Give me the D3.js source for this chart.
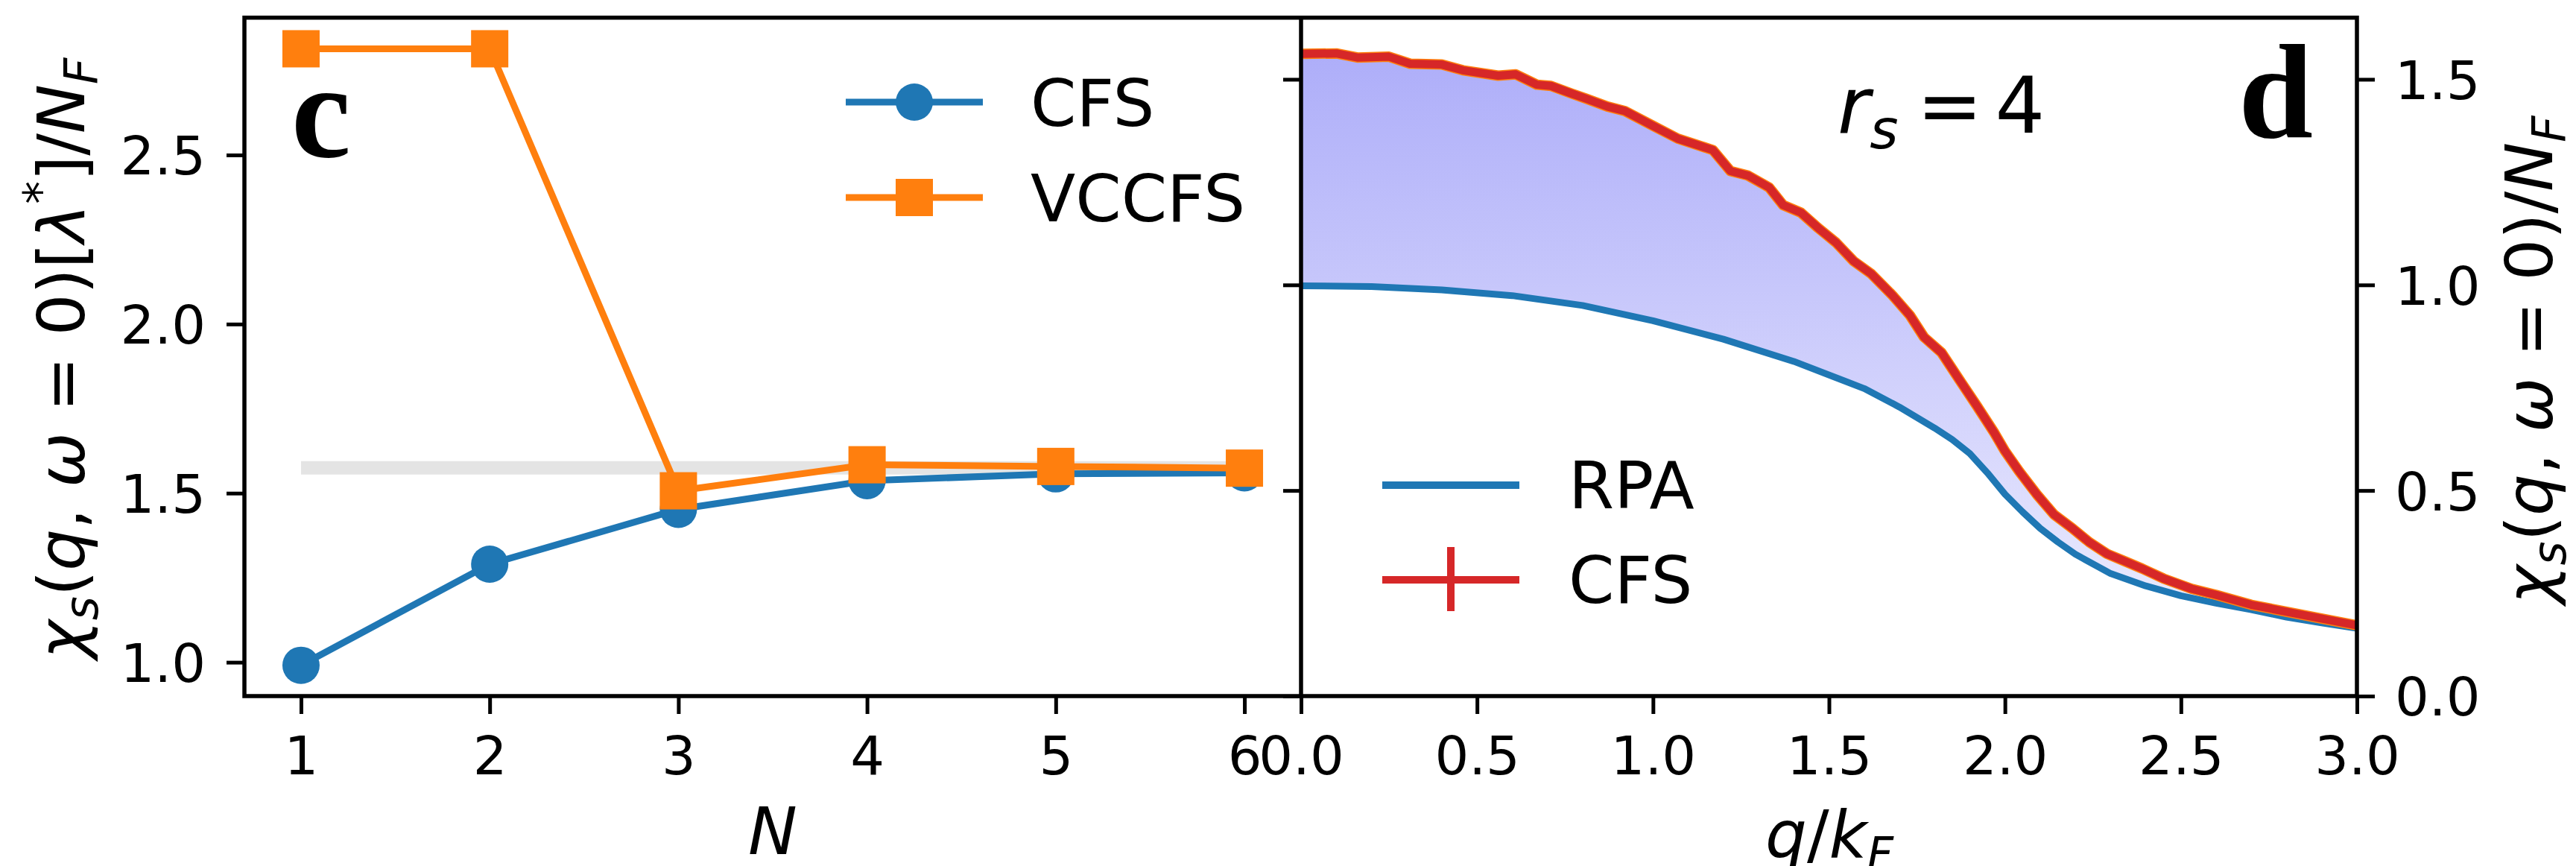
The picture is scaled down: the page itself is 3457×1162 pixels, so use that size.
<!DOCTYPE html>
<html>
<head>
<meta charset="utf-8">
<script src="https://cdn.jsdelivr.net/npm/d3@7/dist/d3.min.js"></script>
<style>
  html, body { margin: 0; padding: 0; background: #fff; }
  svg { display: block; }
  .tick text { font-family: "DejaVu Sans", sans-serif; font-size: 72px; fill: #000; }
  .tick line { stroke: #000; stroke-width: 5; }
  .lbl { font-family: "DejaVu Sans", sans-serif; fill: #000; }
  .it { font-style: italic; }
</style>
</head>
<body>
<script>
// ---- panel c: susceptibility vs. expansion order N ----
const orders = [1, 2, 3, 4, 5, 6];
const cfsByOrder = [0.991, 1.290, 1.452, 1.537, 1.557, 1.560];
const vccfsByOrder = [2.814, 2.814, 1.507, 1.584, 1.579, 1.574];
const convergedLevel = 1.575;
const orderTicks = [1, 2, 3, 4, 5, 6];
const leftValueTicks = [1.0, 1.5, 2.0, 2.5];

// ---- panel d: static spin susceptibility vs. q/k_F at r_s = 4 ----
const qRpa = [0.0, 0.2, 0.4, 0.6, 0.8, 1.0, 1.2, 1.4, 1.6, 1.7, 1.8, 1.85, 1.9, 1.95, 2.0,
              2.05, 2.1, 2.15, 2.2, 2.3, 2.4, 2.5, 2.6, 2.7, 2.8, 2.9, 3.0];
const rpaValues = [0.998, 0.996, 0.988, 0.974, 0.950, 0.913, 0.868, 0.814, 0.748, 0.703, 0.652,
                   0.624, 0.590, 0.543, 0.491, 0.448, 0.408, 0.375, 0.345, 0.298, 0.268, 0.244,
                   0.226, 0.210, 0.192, 0.178, 0.165];
const qCfs = [0.0, 0.10, 0.16, 0.25, 0.31, 0.40, 0.46, 0.56, 0.61, 0.67, 0.71, 0.77, 0.81, 0.87,
              0.92, 1.00, 1.07, 1.17, 1.22, 1.27, 1.33, 1.37, 1.42, 1.47, 1.52, 1.57, 1.62, 1.68,
              1.73, 1.77, 1.82, 1.87, 1.92, 1.97, 2.00, 2.04, 2.09, 2.14, 2.19, 2.24, 2.29, 2.34,
              2.39, 2.45, 2.53, 2.60, 2.70, 2.80, 2.89, 3.00];
const cfsValues = [1.562, 1.563, 1.553, 1.555, 1.538, 1.536, 1.522, 1.509, 1.512, 1.487, 1.484,
                   1.465, 1.453, 1.434, 1.423, 1.387, 1.356, 1.328, 1.277, 1.266, 1.237, 1.194,
                   1.176, 1.138, 1.103, 1.058, 1.027, 0.975, 0.926, 0.873, 0.835, 0.770, 0.706,
                   0.640, 0.596, 0.547, 0.491, 0.441, 0.409, 0.374, 0.346, 0.328, 0.310, 0.286,
                   0.261, 0.246, 0.222, 0.205, 0.190, 0.172];
const qTicks = [0, 0.5, 1.0, 1.5, 2.0, 2.5, 3.0];
const rightValueTicks = [0, 0.5, 1.0, 1.5];

const W = 3457, H = 1162;
const plotTop = 23.7, plotBottom = 934;
const cLeft = 328, mid = 1746, dRight = 3163;

const svg = d3.select("body").append("svg").attr("width", W).attr("height", H);
svg.append("rect").attr("width", W).attr("height", H).attr("fill", "#fff");

const xN = d3.scaleLinear().domain([0.7, 6.3]).range([cLeft, mid]);
const yC = d3.scaleLinear().domain([0.9, 2.906]).range([plotBottom, plotTop]);
const xQ = d3.scaleLinear().domain([0, 3]).range([mid, dRight]);
const yD = d3.scaleLinear().domain([0, 1.65]).range([plotBottom, plotTop]);

const blue = "#1f77b4", orange = "#ff7f0e", red = "#d62728";

// gradient for the region between RPA and CFS
const defs = svg.append("defs");
const grad = defs.append("linearGradient").attr("id", "gap").attr("gradientUnits", "userSpaceOnUse")
  .attr("x1", 0).attr("x2", 0).attr("y1", yD(1.6)).attr("y2", yD(0.15));
grad.append("stop").attr("offset", 0).attr("stop-color", "rgb(172,172,249)");
grad.append("stop").attr("offset", 1).attr("stop-color", "rgb(236,236,254)");
defs.append("clipPath").attr("id", "clipD").append("rect")
  .attr("x", mid).attr("y", plotTop).attr("width", dRight - mid).attr("height", plotBottom - plotTop);

// ---------- panel c ----------
const gC = svg.append("g");
gC.append("line")
  .attr("x1", xN(orders[0])).attr("x2", xN(orders[orders.length - 1]))
  .attr("y1", yC(convergedLevel)).attr("y2", yC(convergedLevel))
  .attr("stroke", "#e4e4e4").attr("stroke-width", 18);

const lineC = d3.line().x(d => xN(d[0])).y(d => yC(d[1]));
const cfsPts = orders.map((n, i) => [n, cfsByOrder[i]]);
const vcPts = orders.map((n, i) => [n, vccfsByOrder[i]]);

gC.append("path").attr("d", lineC(cfsPts)).attr("fill", "none").attr("stroke", blue).attr("stroke-width", 9);
gC.selectAll("circle.cfs").data(cfsPts).enter().append("circle")
  .attr("cx", d => xN(d[0])).attr("cy", d => yC(d[1])).attr("r", 25).attr("fill", blue);
gC.append("path").attr("d", lineC(vcPts)).attr("fill", "none").attr("stroke", orange).attr("stroke-width", 9);
gC.selectAll("rect.vc").data(vcPts).enter().append("rect")
  .attr("x", d => xN(d[0]) - 25).attr("y", d => yC(d[1]) - 25).attr("width", 50).attr("height", 50)
  .attr("fill", orange);

// legend c
const legC = svg.append("g");
[[137, blue, "CFS", "circle"], [265, orange, "VCCFS", "square"]].forEach(([y, col, name, m]) => {
  legC.append("line").attr("x1", 1135).attr("x2", 1319).attr("y1", y).attr("y2", y)
    .attr("stroke", col).attr("stroke-width", 9);
  if (m === "circle") legC.append("circle").attr("cx", 1227).attr("cy", y).attr("r", 25).attr("fill", col);
  else legC.append("rect").attr("x", 1202).attr("y", y - 25).attr("width", 50).attr("height", 50).attr("fill", col);
  legC.append("text").attr("class", "lbl").attr("x", 1383).attr("y", y + 32)
    .style("font-size", "88px").text(name);
});

// ---------- panel d ----------
const gD = svg.append("g").attr("clip-path", "url(#clipD)");
const lineD = d3.line().x(d => xQ(d[0])).y(d => yD(d[1]));
const rpaPts = qRpa.map((q, i) => [q, rpaValues[i]]);
const cfsQPts = qCfs.map((q, i) => [q, cfsValues[i]]);
gD.append("path").attr("d", lineD(cfsQPts.concat(rpaPts.slice().reverse())) + "Z")
  .attr("fill", "url(#gap)").attr("stroke", "none");
gD.append("path").attr("d", lineD(rpaPts)).attr("fill", "none").attr("stroke", blue)
  .attr("stroke-width", 9).attr("stroke-linejoin", "round");
gD.append("path").attr("d", lineD(cfsQPts)).attr("fill", "none").attr("stroke", orange)
  .attr("stroke-width", 14).attr("stroke-linejoin", "round");
gD.append("path").attr("d", lineD(cfsQPts)).attr("fill", "none").attr("stroke", red)
  .attr("stroke-width", 11).attr("stroke-linejoin", "round");

// legend d
const legD = svg.append("g");
legD.append("line").attr("x1", 1855).attr("x2", 2039).attr("y1", 651).attr("y2", 651)
  .attr("stroke", blue).attr("stroke-width", 10);
legD.append("text").attr("class", "lbl").attr("x", 2105).attr("y", 682).style("font-size", "88px").text("RPA");
legD.append("line").attr("x1", 1855).attr("x2", 2039).attr("y1", 778).attr("y2", 778)
  .attr("stroke", red).attr("stroke-width", 10);
legD.append("line").attr("x1", 1947).attr("x2", 1947).attr("y1", 734).attr("y2", 820)
  .attr("stroke", red).attr("stroke-width", 10);
legD.append("text").attr("class", "lbl").attr("x", 2105).attr("y", 809).style("font-size", "88px").text("CFS");

// ---------- axes ----------
function strip(g) { g.select(".domain").remove(); }
function midText(g) { g.selectAll(".tick text").attr("dy", "0.36em"); }
svg.append("g").attr("transform", `translate(0,${plotBottom})`)
  .call(d3.axisBottom(xN).tickValues(orderTicks).tickFormat(d3.format("d")).tickSize(24).tickPadding(30)).call(strip);
svg.append("g").attr("transform", `translate(${cLeft},0)`)
  .call(d3.axisLeft(yC).tickValues(leftValueTicks).tickFormat(d3.format(".1f")).tickSize(24).tickPadding(28))
  .call(strip).call(midText);
svg.append("g").attr("transform", `translate(0,${plotBottom})`)
  .call(d3.axisBottom(xQ).tickValues(qTicks).tickFormat(d3.format(".1f")).tickSize(24).tickPadding(30)).call(strip);
svg.append("g").attr("transform", `translate(${dRight},0)`)
  .call(d3.axisRight(yD).tickValues(rightValueTicks).tickFormat(d3.format(".1f")).tickSize(24).tickPadding(27))
  .call(strip).call(midText);
svg.append("g").attr("transform", `translate(${mid},0)`)
  .call(d3.axisLeft(yD).tickValues(rightValueTicks).tickFormat("").tickSize(24)).call(strip);

// spines
svg.append("rect").attr("x", cLeft).attr("y", plotTop).attr("width", dRight - cLeft).attr("height", plotBottom - plotTop)
  .attr("fill", "none").attr("stroke", "#000").attr("stroke-width", 5.5);
svg.append("line").attr("x1", mid).attr("x2", mid).attr("y1", plotTop).attr("y2", plotBottom)
  .attr("stroke", "#000").attr("stroke-width", 5.5);

// ---------- labels ----------
function mathLabel(parent, parts, size) {
  const t = parent.append("text").attr("class", "lbl").style("font-size", size + "px");
  parts.forEach(p => {
    const s = t.append("tspan").text(p.t);
    if (p.i) s.attr("class", "it");
    if (p.sub) s.style("font-size", (size * 0.7) + "px").attr("dy", size * 0.2);
    if (p.sup) s.style("font-size", (size * 0.7) + "px").attr("dy", -size * 0.42);
    if (p.back) s.attr("dy", p.back);
    if (p.dx) s.attr("dx", p.dx);
  });
  return t;
}

// x labels
mathLabel(svg.append("g").attr("transform", "translate(1037,1146)"), [{ t: "N", i: 1 }], 88)
  .attr("text-anchor", "middle");
mathLabel(svg.append("g").attr("transform", "translate(2455,1150)"),
  [{ t: "q", i: 1 }, { t: "/" }, { t: "k", i: 1 }, { t: "F", i: 1, sub: 1 }], 88)
  .attr("text-anchor", "middle");

// y labels
mathLabel(svg.append("g").attr("transform", "translate(113,481) rotate(-90)"), [
  { t: "χ", i: 1 }, { t: "s", i: 1, sub: 1 }, { t: "(", back: -88 * 0.2 }, { t: "q", i: 1 }, { t: ", " },
  { t: "ω", i: 1 }, { t: " = 0)[" }, { t: "λ", i: 1 }, { t: "*", sup: 1 }, { t: "]/", back: 88 * 0.42 },
  { t: "N", i: 1 }, { t: "F", i: 1, sub: 1 }], 88).attr("text-anchor", "middle");
mathLabel(svg.append("g").attr("transform", "translate(3425,483) rotate(-90)"), [
  { t: "χ", i: 1 }, { t: "s", i: 1, sub: 1 }, { t: "(", back: -88 * 0.2 }, { t: "q", i: 1 }, { t: ", " },
  { t: "ω", i: 1 }, { t: " = 0)/" }, { t: "N", i: 1 }, { t: "F", i: 1, sub: 1 }], 88)
  .attr("text-anchor", "middle");

// annotation
mathLabel(svg.append("g").attr("transform", "translate(2466,178)"),
  [{ t: "r", i: 1 }, { t: "s", i: 1, sub: 1 }, { t: "=", back: -105 * 0.2, dx: 25 }, { t: "4", dx: 17 }], 105);

// panel letters
svg.append("text").attr("x", 391).attr("y", 210)
  .style("font-family", "'Liberation Serif', 'Times New Roman', serif").style("font-weight", "bold")
  .style("font-size", "180px").text("c");
svg.append("text").attr("x", 3104).attr("y", 184).attr("text-anchor", "end")
  .style("font-family", "'Liberation Serif', 'Times New Roman', serif").style("font-weight", "bold")
  .style("font-size", "180px").text("d");
</script>
</body>
</html>
